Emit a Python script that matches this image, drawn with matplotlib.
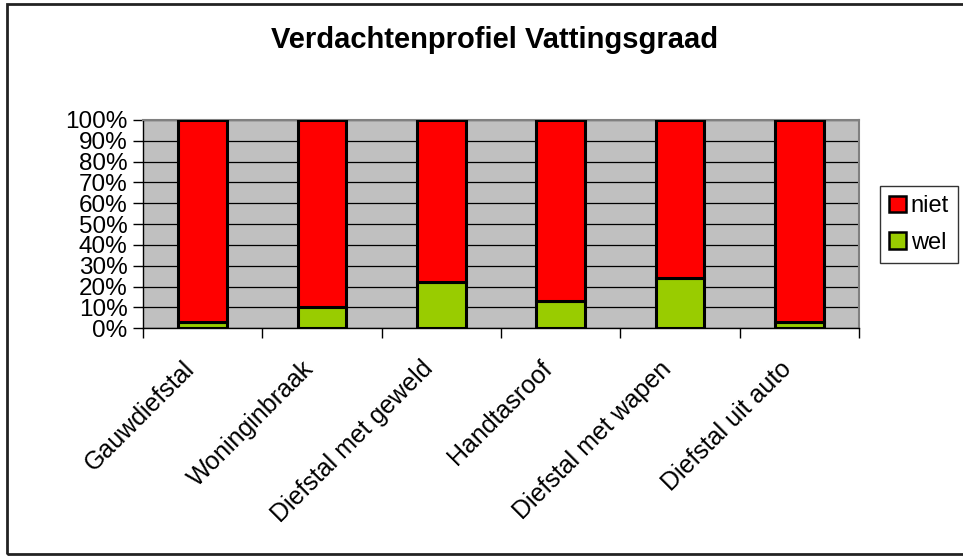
import matplotlib.pyplot as plt
import matplotlib.patches as mpatches
import numpy as np

plt.rcParams['font.family'] = ['Liberation Sans', 'DejaVu Sans']

categories = ["Gauwdiefstal", "Woninginbraak", "Diefstal met geweld",
              "Handtasroof", "Diefstal met wapen", "Diefstal uit auto"]
wel = [3, 10, 22, 13, 24, 3]
niet = [100 - w for w in wel]
y_ticks = list(range(0, 101, 10))

W, H = 963, 558
fig = plt.figure(figsize=(W / 100, H / 100), dpi=100)
ax = fig.add_axes([143 / W, 1 - 328.3 / H, (859 - 143) / W, (328.3 - 120) / H])

x = np.arange(len(categories))
ax.set_facecolor("#C0C0C0")
ax.bar(x, wel, width=0.41, color="#99CC00", edgecolor="black", linewidth=2.2, zorder=3, label="wel")
ax.bar(x, niet, bottom=wel, width=0.41, color="#FF0000", edgecolor="black", linewidth=2.2, zorder=3, label="niet")

ax.set_xlim(-0.5, len(categories) - 0.5)
ax.set_ylim(0, 100)
ax.set_yticks(y_ticks)
ax.set_yticklabels([f"{v}%" for v in y_ticks], fontsize=17.5)
ax.yaxis.grid(True, color="black", linewidth=0.9, zorder=1)
ax.set_axisbelow(True)
ax.tick_params(axis="y", length=7, width=1, pad=4)

# ticks at category boundaries, labels placed by hand below
ax.set_xticks(np.arange(-0.5, len(categories), 1.0))
ax.set_xticklabels([])
ax.tick_params(axis="x", length=7, width=1, direction="out")
for i, name in enumerate(categories):
    ax.annotate(name, xy=(i, 0), xycoords=("data", "axes fraction"),
                xytext=(-12, -37), textcoords="offset pixels",
                rotation=45, rotation_mode="anchor", ha="right", va="center",
                fontsize=18)

for side in ["top", "right"]:
    ax.spines[side].set_color("#808080")
    ax.spines[side].set_linewidth(1.5)
for side in ["left", "bottom"]:
    ax.spines[side].set_color("black")
    ax.spines[side].set_linewidth(1)

fig.text(495 / W, 1 - 40 / H, "Verdachtenprofiel Vattingsgraad",
         ha="center", va="center", fontsize=21, fontweight="bold")

handles = [mpatches.Patch(facecolor="#FF0000", edgecolor="black", linewidth=1.8, label="niet"),
           mpatches.Patch(facecolor="#99CC00", edgecolor="black", linewidth=1.8, label="wel")]
leg = fig.legend(handles=handles, loc="upper left", bbox_to_anchor=(880 / W, 1 - 186 / H),
                 frameon=True, fancybox=False, shadow=False, fontsize=17,
                 handlelength=0.7, handleheight=0.7, handletextpad=0.2,
                 borderpad=0.4, labelspacing=0.6, borderaxespad=0)
leg.get_frame().set_edgecolor("black")
leg.get_frame().set_linewidth(1)

frame = mpatches.Rectangle((6.5 / W, 1 - 554 / H), 1.05, (554 - 4) / H,
                           transform=fig.transFigure, fill=False,
                           edgecolor="#222222", linewidth=2, clip_on=False)
fig.patches.append(frame)

fig.savefig("out.png", dpi=100)
